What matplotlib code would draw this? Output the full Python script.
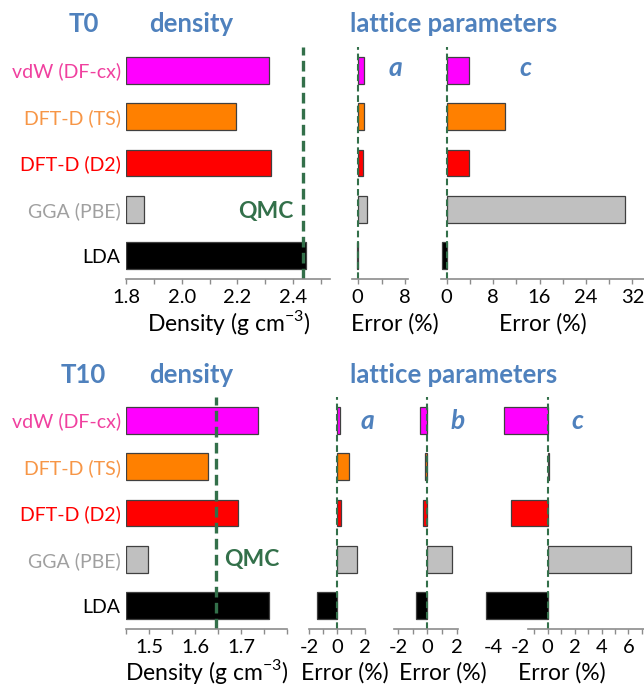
import matplotlib
matplotlib.use('Agg')
import matplotlib.pyplot as plt
import numpy as np

# data
methods = ['vdW (DF-cx)', 'DFT-D (TS)', 'DFT-D (D2)', 'GGA (PBE)', 'LDA']
bar_colors = ['#FF00FF', '#FF8000', '#FF0000', '#C0C0C0', '#000000']
label_colors = ['#F0409F', '#F79646', '#FF0000', '#A0A0A0', '#000000']

t0_density = [2.315, 2.195, 2.321, 1.862, 2.447]
t0_qmc = 2.435
t0_err_a = [1.1, 1.1, 0.95, 1.6, -0.1]
t0_err_c = [3.83, 10.0, 3.83, 30.8, -0.85]

t10_density = [1.737, 1.628, 1.693, 1.498, 1.761]
t10_qmc = 1.646
t10_err_a = [0.2, 0.89, 0.25, 1.41, -1.4]
t10_err_b = [-0.52, -0.14, -0.32, 1.72, -0.75]
t10_err_c = [-3.21, 0.1, -2.74, 6.22, -4.57]

W, H = 644, 687
plt.rcParams['font.family'] = ['Lato', 'DejaVu Sans']
plt.rcParams['mathtext.fontset'] = 'custom'
plt.rcParams['mathtext.rm'] = 'Lato'
plt.rcParams['axes.unicode_minus'] = False

BLUE = '#4F81BD'
GREEN = '#33704A'
AXC = '#8C8C8C'

fig = plt.figure(figsize=(W / 100, H / 100), dpi=100)


def box(x0, y0, x1, y1):
    return [x0 / W, 1 - y1 / H, (x1 - x0) / W, (y1 - y0) / H]


def ftext(x, y, s, **kw):
    fig.text(x / W, 1 - y / H, s, **kw)


def make_ax(rect, xlim, major, minor, labels=None):
    ax = fig.add_axes(rect)
    ax.set_xlim(*xlim)
    ax.set_ylim(4.5, -0.5)
    for s in ['top', 'right', 'left']:
        ax.spines[s].set_visible(False)
    ax.spines['bottom'].set_color(AXC)
    ax.spines['bottom'].set_linewidth(1.2)
    ax.set_xticks(major)
    if labels is not None:
        ax.set_xticklabels(labels)
    ax.set_xticks(minor, minor=True)
    ax.tick_params(axis='x', which='both', direction='out', length=3.5, width=1,
                   color=AXC, labelsize=14.5, pad=4)
    ax.set_yticks([])
    ax.patch.set_alpha(0)
    return ax


ypos = np.arange(len(methods))


def density_panel(rect, xlim, major, minor, vals, qmc, labels=None):
    ax = make_ax(rect, xlim, major, minor, labels)
    base = xlim[0]
    ax.barh(ypos, np.array(vals) - base, left=base, height=0.58,
            color=bar_colors, edgecolor='#404040', linewidth=0.9)
    ax.axvline(qmc, color=GREEN, lw=2.4, dashes=(3.2, 1.6))
    ax.set_yticks(ypos)
    ax.set_yticklabels(methods, fontsize=14)
    for t, c in zip(ax.get_yticklabels(), label_colors):
        t.set_color(c)
    ax.tick_params(axis='y', length=0, pad=4)
    return ax


def error_panel(rect, xlim, major, minor, vals, labels=None):
    ax = make_ax(rect, xlim, major, minor, labels)
    ax.barh(ypos, vals, height=0.58, color=bar_colors,
            edgecolor='#404040', linewidth=0.9)
    ax.axvline(0, color=GREEN, lw=1.5, dashes=(3.2, 1.8))
    return ax


# top row: T0
top, bot = 47, 279
density_panel(box(126.3, top, 330.3, bot), (1.8, 2.534),
              [1.8, 2.0, 2.2, 2.4], [1.9, 2.1, 2.3, 2.5],
              t0_density, t0_qmc, ['1.8', '2.0', '2.2', '2.4'])
error_panel(box(352, top, 408, bot), (-0.96, 8.45), [0, 8], [4], t0_err_a)
error_panel(box(441, top, 644, bot), (-0.97, 34.0),
            [0, 8, 16, 24, 32], [4, 12, 20, 28], t0_err_c)

# bottom row: T10
top, bot = 397, 629
density_panel(box(126.3, top, 286.7, bot), (1.45, 1.80),
              [1.5, 1.6, 1.7], [1.45, 1.55, 1.65, 1.75, 1.8],
              t10_density, t10_qmc, ['1.5', '1.6', '1.7'])
error_panel(box(309, top, 365, bot), (-2, 2), [-2, 0, 2], [-1, 1], t10_err_a)
error_panel(box(394.3, top, 458.3, bot), (-2.26, 2.12), [-2, 0, 2], [-1, 1], t10_err_b)
axc = error_panel(box(480.2, top, 644, bot), (-5, 7.15),
                  [-4, -2, 0, 2, 4, 6], [-1, 1, 3, 5, 7], t10_err_c)
axc.spines['bottom'].set_bounds(-1.44, 7.15)
for t in axc.xaxis.get_major_ticks()[:2]:
    t.tick1line.set_visible(False)

# titles
tkw = dict(color=BLUE, fontsize=18.5, fontweight='bold', ha='center', va='baseline')
ftext(84, 31.5, 'T0', **tkw)
ftext(191, 31.5, 'density', **tkw)
ftext(454, 31.5, 'lattice parameters', **tkw)
ftext(83, 383, 'T10', **tkw)
ftext(191, 383, 'density', **tkw)
ftext(454, 383, 'lattice parameters', **tkw)

lkw = dict(color=BLUE, fontsize=19, fontweight='bold', style='italic',
           ha='center', va='baseline')
ftext(395, 76, 'a', **lkw)
ftext(525, 76, 'c', **lkw)
ftext(367, 429, 'a', **lkw)
ftext(458, 429, 'b', **lkw)
ftext(577, 429, 'c', **lkw)

qkw = dict(color=GREEN, fontsize=16.5, fontweight='bold', ha='center', va='baseline')
ftext(266, 218, 'QMC', **qkw)
ftext(252, 566, 'QMC', **qkw)

xkw = dict(color='black', fontsize=16.5, ha='center', va='baseline')
ftext(229, 331, 'Density (g cm$^{-3}$)', **xkw)
ftext(395, 331, 'Error (%)', **xkw)
ftext(543, 331, 'Error (%)', **xkw)
ftext(207, 680, 'Density (g cm$^{-3}$)', **xkw)
ftext(345, 680, 'Error (%)', **xkw)
ftext(443, 680, 'Error (%)', **xkw)
ftext(562, 680, 'Error (%)', **xkw)

fig.savefig('out.png', dpi=100)
